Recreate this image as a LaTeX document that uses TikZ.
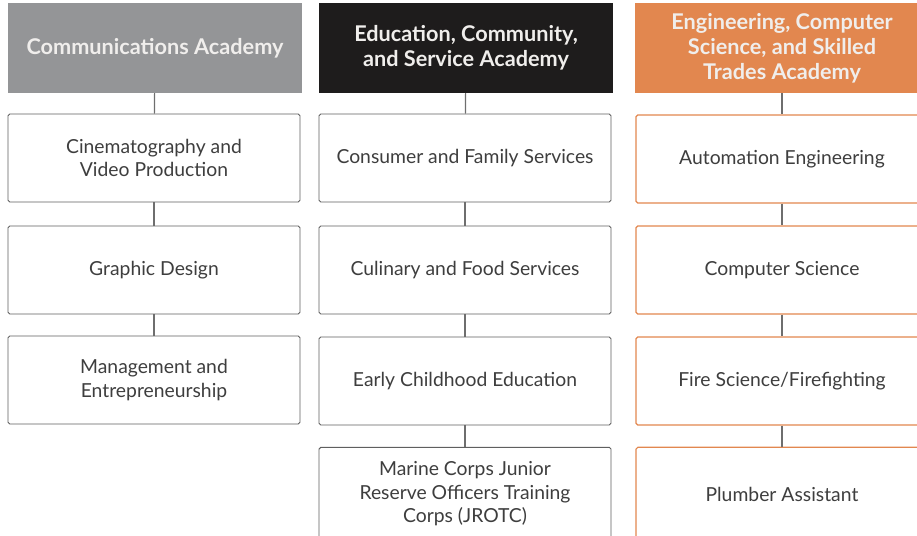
\documentclass[tikz,border=0pt]{standalone}
\usepackage{fontspec}
\setmainfont{Lato}
\definecolor{commgray}{RGB}{148,149,151}
\definecolor{edublack}{RGB}{30,28,28}
\definecolor{engorange}{RGB}{226,135,79}
\definecolor{boxline}{RGB}{95,95,95}
\definecolor{boxtext}{RGB}{62,62,62}
\definecolor{headtext}{RGB}{240,238,236}
\definecolor{linkgray}{RGB}{110,110,110}
\tikzset{
  headbox/.style={minimum width=8.82cm,minimum height=2.7cm,inner sep=0pt,
    text=headtext,align=center,font=\fontsize{18.5}{21.5}\selectfont\bfseries},
  trackbox/.style={draw=boxline,line width=0.8pt,rounded corners=1.5pt,fill=white,
    minimum width=8.76cm,minimum height=2.64cm,inner sep=0pt,
    text=boxtext,align=center,font=\fontsize{16.5}{20}\selectfont},
  engbox/.style={trackbox,draw=engorange,line width=1pt},
  link/.style={draw=linkgray,line width=1pt}
}
\begin{document}
\begin{tikzpicture}[x=0.03cm,y=-0.03cm]
\useasboundingbox (0,0) rectangle (917,536);
\clip (0,0) rectangle (917,536);
% communications
\node[headbox,fill=commgray] (comm) at (155,48) {Communications Academy};
\node[trackbox] (cine) at (154,158) {Cinematography and\\Video Production};
\node[trackbox] (graph) at (154,270) {Graphic Design};
\node[trackbox] (mgmt) at (154,380) {Management and\\Entrepreneurship};
% education
\node[headbox,fill=edublack] (edu) at (466,48) {Education, Community,\\and Service Academy};
\node[trackbox] (cons) at (465,158) {Consumer and Family Services};
\node[trackbox] (culi) at (465,270) {Culinary and Food Services};
\node[trackbox] (early) at (465,381) {Early Childhood Education};
\node[trackbox,minimum height=2.8cm] (jrotc) at (465,494) {Marine Corps Junior\\Reserve Officers Training\\Corps (JROTC)};
% engineering
\node[headbox,fill=engorange] (eng) at (782,48) {Engineering, Computer\\Science, and Skilled\\Trades Academy};
\node[engbox] (auto) at (782,159) {Automation Engineering};
\node[engbox] (comp) at (782,270) {Computer Science};
\node[engbox] (fire) at (782,381) {Fire Science/Firefighting};
\node[engbox,minimum height=2.8cm] (plumb) at (782,494) {Plumber Assistant};
\draw[link] (comm) -- (cine);
\draw[link] (cine) -- (graph);
\draw[link] (graph) -- (mgmt);
\draw[link] (edu) -- (cons);
\draw[link] (cons) -- (culi);
\draw[link] (culi) -- (early);
\draw[link] (early) -- (jrotc);
\draw[link] (eng) -- (auto);
\draw[link] (auto) -- (comp);
\draw[link] (comp) -- (fire);
\draw[link] (fire) -- (plumb);
\end{tikzpicture}
\end{document}
